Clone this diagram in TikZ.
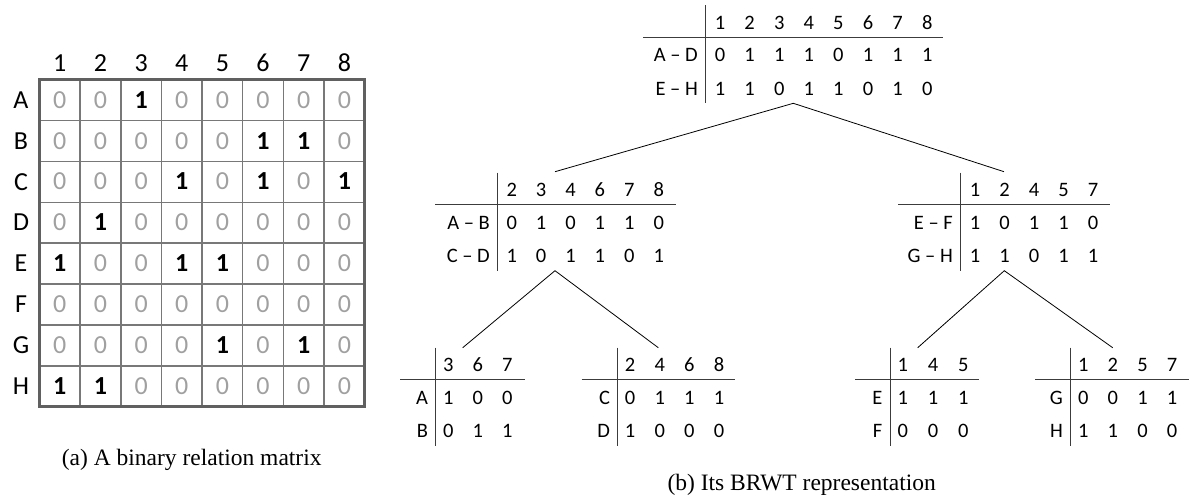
\documentclass[tikz,border=0pt]{standalone}
\usepackage{fontspec}
\setmainfont{Liberation Serif}
\newfontfamily\carl{Carlito}
\definecolor{zerogray}{RGB}{160,160,160}
\definecolor{outergray}{RGB}{96,96,96}
\definecolor{innergray}{RGB}{120,120,120}
\definecolor{rulegray}{RGB}{60,60,60}
\newcommand\tabrow[5]{%
  \foreach \v [count=\k from 0] in {#5} {\node[tabtxt] (#1-\k) at ({#2+#3*\k},#4) {\v};}}
\begin{document}
\begin{tikzpicture}[x=1pt,y=-1pt,
  tabtxt/.style={font=\carl\fontsize{20.5}{22}\selectfont, inner sep=0pt, anchor=base},
  tablbl/.style={font=\carl\fontsize{20.5}{22}\selectfont, inner sep=0pt, anchor=base east},
  mattxt/.style={font=\carl\fontsize{26}{28}\selectfont, inner sep=0pt, anchor=base},
  zerotxt/.style={mattxt, text=zerogray},
  onetxt/.style={mattxt, font=\carl\bfseries\fontsize{26}{28}\selectfont},
  tabrule/.style={line width=0.9pt, rulegray},
  treeline/.style={line width=0.8pt, black},
  captxt/.style={font=\fontsize{23.5}{26}\selectfont, inner sep=0pt, anchor=base}]
\useasboundingbox (0,0) rectangle (1189,496);

% ---------- matrix ----------
\def\mx{39.5}\def\my{79.5}\def\cw{40.65}\def\ch{40.9}
\foreach \i in {1,...,7} {
  \draw[innergray, line width=1.4pt] ({\mx+\cw*\i},\my) -- ({\mx+\cw*\i},{\my+8*\ch});
  \draw[innergray, line width=1.4pt] (\mx,{\my+\ch*\i}) -- ({\mx+8*\cw},{\my+\ch*\i});
}
\draw[outergray, line width=3pt] (\mx,\my) rectangle ({\mx+8*\cw},{\my+8*\ch});
\foreach \c in {1,...,8} {
  \node[mattxt] (colh\c) at ({\mx+\cw*(\c-0.5)},71.5) {\c};
}
\foreach \r/\lab/\row [count=\ri from 0] in {
  A/A/{0,0,1,0,0,0,0,0},
  B/B/{0,0,0,0,0,1,1,0},
  C/C/{0,0,0,1,0,1,0,1},
  D/D/{0,1,0,0,0,0,0,0},
  E/E/{1,0,0,1,1,0,0,0},
  F/F/{0,0,0,0,0,0,0,0},
  G/G/{0,0,0,0,1,0,1,0},
  H/H/{1,1,0,0,0,0,0,0}} {
  \node[mattxt] (rowh\r) at (21,{\my+\ch*(\ri+0.5)+8.3}) {\lab};
  \foreach \b [count=\ci from 0] in \row {
    \ifnum\b=1
      \node[onetxt] (m\r\ci) at ({\mx+\cw*(\ci+0.5)},{\my+\ch*(\ri+0.5)+8.2}) {1};
    \else
      \node[zerotxt] (m\r\ci) at ({\mx+\cw*(\ci+0.5)},{\my+\ch*(\ri+0.5)+8.2}) {0};
    \fi
  }
}
\node[captxt] (capa) at (191.7,465) {(a) A binary relation matrix};

% ---------- top table (T=5, V=705) ----------
\draw[tabrule] (705,5) -- (705,103);
\draw[tabrule] (643,37) -- (943,37);
\tabrow{th}{720}{29.6}{29}{1,2,3,4,5,6,7,8}
\node[tablbl] (tl1) at (698,61.5) {A – D};
\tabrow{ta}{720}{29.6}{61.5}{0,1,1,1,0,1,1,1}
\node[tablbl] (tl2) at (698,95) {E – H};
\tabrow{tb}{720}{29.6}{95}{1,1,0,1,1,0,1,0}

% ---------- middle left (T=172.5, V=497.7) ----------
\draw[tabrule] (497.7,172.5) -- (497.7,270.5);
\draw[tabrule] (435,204.5) -- (676,204.5);
\tabrow{mlh}{511.7}{29.4}{196.5}{2,3,4,6,7,8}
\node[tablbl] (mll1) at (490,229) {A – B};
\tabrow{mla}{511.7}{29.4}{229}{0,1,0,1,1,0}
\node[tablbl] (mll2) at (490,262.5) {C – D};
\tabrow{mlb}{511.7}{29.4}{262.5}{1,0,1,1,0,1}

% ---------- middle right (T=172.5, V=960.7) ----------
\draw[tabrule] (960.7,172.5) -- (960.7,270.5);
\draw[tabrule] (898,204.5) -- (1110,204.5);
\tabrow{mrh}{975}{29.5}{196.5}{1,2,4,5,7}
\node[tablbl] (mrl1) at (953,229) {E – F};
\tabrow{mra}{975}{29.5}{229}{1,0,1,1,0}
\node[tablbl] (mrl2) at (953,262.5) {G – H};
\tabrow{mrb}{975}{29.5}{262.5}{1,1,0,1,1}

% ---------- bottom tables (T=347.7) ----------
\draw[tabrule] (435.7,347.7) -- (435.7,445.7);
\draw[tabrule] (400,379.7) -- (525,379.7);
\tabrow{b1h}{448.3}{29.5}{371.7}{3,6,7}
\node[tablbl] (b1l1) at (428.2,404.2) {A};
\tabrow{b1a}{448.3}{29.5}{404.2}{1,0,0}
\node[tablbl] (b1l2) at (428.2,437.7) {B};
\tabrow{b1b}{448.3}{29.5}{437.7}{0,1,1}

\draw[tabrule] (617.7,347.7) -- (617.7,445.7);
\draw[tabrule] (581.7,379.7) -- (735,379.7);
\tabrow{b2h}{630}{29.7}{371.7}{2,4,6,8}
\node[tablbl] (b2l1) at (610.2,404.2) {C};
\tabrow{b2a}{630}{29.7}{404.2}{0,1,1,1}
\node[tablbl] (b2l2) at (610.2,437.7) {D};
\tabrow{b2b}{630}{29.7}{437.7}{1,0,0,0}

\draw[tabrule] (890.7,347.7) -- (890.7,445.7);
\draw[tabrule] (855,379.7) -- (979.3,379.7);
\tabrow{b3h}{902.7}{30.3}{371.7}{1,4,5}
\node[tablbl] (b3l1) at (882.5,404.2) {E};
\tabrow{b3a}{902.7}{30.3}{404.2}{1,1,1}
\node[tablbl] (b3l2) at (882.5,437.7) {F};
\tabrow{b3b}{902.7}{30.3}{437.7}{0,0,0}

\draw[tabrule] (1070.7,347.7) -- (1070.7,445.7);
\draw[tabrule] (1035,379.7) -- (1189,379.7);
\tabrow{b4h}{1083.3}{29.6}{371.7}{1,2,5,7}
\node[tablbl] (b4l1) at (1063,404.2) {G};
\tabrow{b4a}{1083.3}{29.6}{404.2}{0,0,1,1}
\node[tablbl] (b4l2) at (1063,437.7) {H};
\tabrow{b4b}{1083.3}{29.6}{437.7}{1,1,0,0}

% ---------- tree connectors ----------
\coordinate (r0) at (793.3,103.3);
\coordinate (m1) at (555,171.7);
\coordinate (m2) at (1004,171.7);
\coordinate (m1a) at (555,270.7);
\coordinate (m2a) at (1004.3,270.7);
\coordinate (l1) at (462.7,347.7);
\coordinate (l2) at (658.3,347.7);
\coordinate (l3) at (917.7,347.7);
\coordinate (l4) at (1112.7,347.7);
\draw[treeline] (m1) -- (r0) -- (m2);
\draw[treeline] (l1) -- (m1a) -- (l2);
\draw[treeline] (l3) -- (m2a) -- (l4);

\node[captxt] (capb) at (801.7,490) {(b) Its BRWT representation};
\end{tikzpicture}
\end{document}
